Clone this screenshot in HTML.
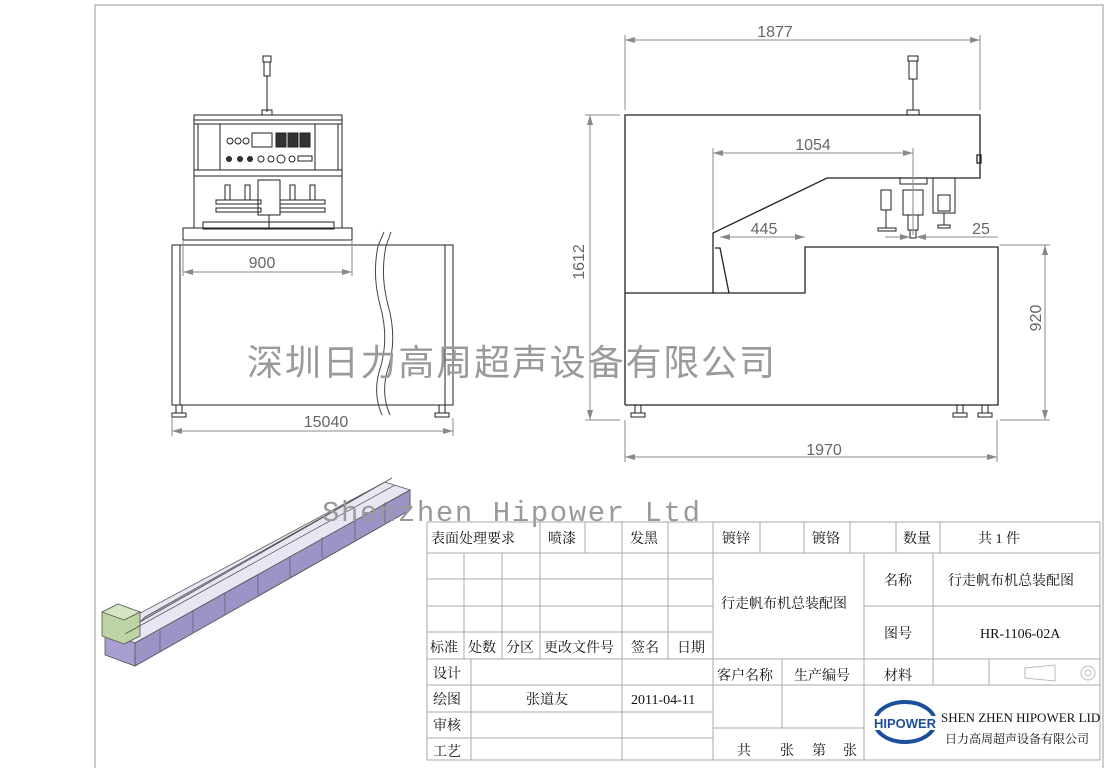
<!DOCTYPE html>
<html><head><meta charset="utf-8"><style>
html,body{margin:0;padding:0;background:#fff;}
svg{display:block}
.t{font-family:"Liberation Serif","Noto Serif CJK SC",serif;font-size:14px;fill:#111}
.d{font-family:"Liberation Sans",sans-serif;font-size:16px;fill:#666}
</style></head><body>
<svg width="1117" height="768" viewBox="0 0 1117 768" xmlns="http://www.w3.org/2000/svg">
<defs>
<marker id="a" viewBox="0 0 10 6" refX="10" refY="3" markerWidth="10" markerHeight="6" orient="auto-start-reverse"><path d="M0,0L10,3L0,6z" fill="#888"/></marker>
</defs>
<path d="M95,768V5H1103V768" fill="none" stroke="#aaa" stroke-width="1.2"/>

<!-- LEFT VIEW -->
<g stroke="#222" fill="none" stroke-width="1">
<rect x="172" y="245" width="281" height="160"/>
<line x1="180" y1="245" x2="180" y2="405"/><line x1="445" y1="245" x2="445" y2="405"/>
<rect x="176" y="405" width="6" height="8"/><rect x="172" y="413" width="14" height="4"/>
<rect x="439" y="405" width="6" height="8"/><rect x="435" y="413" width="14" height="4"/>
<rect x="183" y="228" width="169" height="12"/>
<rect x="203" y="222" width="131" height="7"/>
<rect x="194" y="115" width="148" height="113"/>
<rect x="194" y="120" width="148" height="4"/>
<rect x="198" y="124" width="140" height="46"/>
<rect x="220" y="124" width="95" height="46"/>
<rect x="194" y="170" width="148" height="6"/>
<rect x="252" y="133" width="20" height="14" fill="#fff"/>
<rect x="276" y="133" width="10" height="14" fill="#333"/><rect x="288" y="133" width="10" height="14" fill="#333"/><rect x="300" y="133" width="10" height="14" fill="#333"/>
<circle cx="230" cy="141" r="3"/><circle cx="238" cy="141" r="3"/><circle cx="246" cy="141" r="3"/>
<circle cx="229" cy="159" r="2.5" fill="#333"/><circle cx="240" cy="159" r="2.5" fill="#333"/><circle cx="250" cy="159" r="2.5" fill="#333"/><circle cx="261" cy="159" r="3"/><circle cx="271" cy="159" r="3"/><circle cx="281" cy="159" r="4"/><circle cx="292" cy="159" r="3"/>
<rect x="298" y="156" width="14" height="5"/>
<rect x="263" y="56" width="8" height="6"/><rect x="264" y="62" width="6" height="14"/><line x1="267" y1="76" x2="267" y2="112"/><rect x="262" y="110" width="10" height="5"/>
<rect x="216" y="200" width="45" height="4"/><rect x="216" y="208" width="45" height="4"/>
<rect x="280" y="200" width="45" height="4"/><rect x="280" y="208" width="45" height="4"/>
<rect x="258" y="180" width="22" height="35"/>
<rect x="225" y="185" width="5" height="15"/><rect x="245" y="185" width="5" height="15"/><rect x="290" y="185" width="5" height="15"/><rect x="310" y="185" width="5" height="15"/>
<line x1="269" y1="215" x2="269" y2="228"/>
</g>
<rect x="379" y="246" width="12" height="158" fill="#fff"/>
<path d="M384,232 L378,246 Q372,275 380,305 Q390,340 379,372 Q373,395 382,415 M391,232 L386,246 Q380,275 388,305 Q398,340 387,372 Q381,395 390,415" fill="none" stroke="#444" stroke-width="1"/>
<g stroke="#888" stroke-width="1" fill="none">
<line x1="183" y1="240" x2="183" y2="276"/><line x1="352" y1="240" x2="352" y2="276"/>
<line x1="183" y1="272" x2="352" y2="272" marker-start="url(#a)" marker-end="url(#a)"/>
<line x1="172" y1="418" x2="172" y2="436"/><line x1="453" y1="418" x2="453" y2="436"/>
<line x1="172" y1="431" x2="453" y2="431" marker-start="url(#a)" marker-end="url(#a)"/>
</g>
<text class="d" x="262" y="268" text-anchor="middle">900</text>
<text class="d" x="326" y="427" text-anchor="middle">15040</text>

<!-- RIGHT VIEW -->
<g stroke="#222" fill="none" stroke-width="1.3">
<path d="M625,405V115H980V178H827L713,233V293H625"/>
<path d="M713,293H805V247H998V405H625"/>
<path d="M715,248L720,248L729,293"/>
<rect x="977" y="155" width="4" height="8"/>
</g>
<g stroke="#222" fill="none" stroke-width="1">
<rect x="908" y="56" width="10" height="5"/><rect x="909" y="61" width="8" height="18"/><line x1="913" y1="79" x2="913" y2="110"/><rect x="907" y="110" width="12" height="5"/>
<rect x="900" y="178" width="27" height="6"/>
<rect x="903" y="190" width="20" height="25"/>
<rect x="881" y="190" width="10" height="20"/><line x1="886" y1="210" x2="886" y2="228"/><rect x="878" y="228" width="18" height="3"/>
<rect x="933" y="178" width="22" height="35"/><rect x="938" y="195" width="12" height="16"/><line x1="944" y1="213" x2="944" y2="225"/><rect x="938" y="225" width="12" height="3"/>
<rect x="908" y="215" width="10" height="15"/><rect x="910" y="230" width="6" height="8"/>
</g>
<g stroke="#888" stroke-width="1" fill="none">
<line x1="625" y1="110" x2="625" y2="35"/><line x1="980" y1="110" x2="980" y2="35"/>
<line x1="625" y1="40" x2="980" y2="40" marker-start="url(#a)" marker-end="url(#a)"/>
<line x1="713" y1="230" x2="713" y2="148"/><line x1="913" y1="148" x2="913" y2="235"/>
<line x1="713" y1="153" x2="913" y2="153" marker-start="url(#a)" marker-end="url(#a)"/>
<line x1="720" y1="237" x2="805" y2="237" marker-start="url(#a)" marker-end="url(#a)"/>
<line x1="885" y1="237" x2="910" y2="237" marker-end="url(#a)"/><line x1="945" y1="237" x2="916" y2="237" marker-end="url(#a)"/><line x1="945" y1="237" x2="998" y2="237"/>
<line x1="620" y1="115" x2="585" y2="115"/><line x1="620" y1="420" x2="585" y2="420"/>
<line x1="590" y1="115" x2="590" y2="420" marker-start="url(#a)" marker-end="url(#a)"/>
<line x1="1000" y1="245" x2="1050" y2="245"/><line x1="1000" y1="420" x2="1050" y2="420"/>
<line x1="1045" y1="245" x2="1045" y2="420" marker-start="url(#a)" marker-end="url(#a)"/>
<line x1="625" y1="420" x2="625" y2="462"/><line x1="997" y1="420" x2="997" y2="462"/>
<line x1="625" y1="457" x2="997" y2="457" marker-start="url(#a)" marker-end="url(#a)"/>
</g>
<g fill="none" stroke="#222">
<rect x="635" y="405" width="6" height="8"/><rect x="631" y="413" width="14" height="4"/>
<rect x="957" y="405" width="6" height="8"/><rect x="953" y="413" width="14" height="4"/>
<rect x="982" y="405" width="6" height="8"/><rect x="978" y="413" width="14" height="4"/>
</g>
<text class="d" x="775" y="37" text-anchor="middle">1877</text>
<text class="d" x="813" y="150" text-anchor="middle">1054</text>
<text class="d" x="764" y="234" text-anchor="middle">445</text>
<text class="d" x="981" y="234" text-anchor="middle">25</text>
<text class="d" x="824" y="455" text-anchor="middle">1970</text>
<text class="d" transform="translate(584,262) rotate(-90)" text-anchor="middle">1612</text>
<text class="d" transform="translate(1041,318) rotate(-90)" text-anchor="middle">920</text>

<text x="247" y="375" font-family="'Liberation Sans','Noto Sans CJK SC',sans-serif" font-size="36" fill="#9a9a9a" textLength="528">深圳日力高周超声设备有限公司</text>

<!-- ISOMETRIC -->
<g stroke="#555" stroke-width="0.8">
<polygon points="105,632 105,655 135,666 410,510 410,490" fill="#a89ed0"/>
<polygon points="105,632 135,643 410,490 385,482" fill="#e8e6f2"/>
<polygon points="135,643 135,666 410,510 410,490" fill="#9d93c6"/>
<polygon points="140,622 385,482 392,478 145,617" fill="#b4a8d6"/>
<polygon points="102,612 118,604 140,612 140,636 124,644 102,636" fill="#bcd3a4"/>
<polygon points="102,612 118,604 140,612 124,620" fill="#d6e6c4"/>
</g>
<g stroke="#555" stroke-width="0.6">
<line x1="160" y1="651" x2="160" y2="630"/><line x1="193" y1="632" x2="193" y2="611"/><line x1="225" y1="614" x2="225" y2="593"/><line x1="258" y1="595" x2="258" y2="574"/><line x1="290" y1="577" x2="290" y2="556"/><line x1="322" y1="558" x2="322" y2="537"/><line x1="355" y1="540" x2="355" y2="519"/><line x1="385" y1="523" x2="385" y2="502"/>
<line x1="125" y1="634" x2="395" y2="485" stroke="#333"/>
</g>
<text x="322" y="521" font-family="'Liberation Mono',monospace" font-size="29" fill="#9a9a9a" textLength="378">Shenzhen Hipower Ltd</text>

<!-- TITLE BLOCK -->
<g stroke="#aaa" stroke-width="1" fill="none">
<rect x="427" y="522" width="673" height="238"/>
<line x1="427" y1="553" x2="1100" y2="553"/>
<line x1="427" y1="579" x2="713" y2="579"/><line x1="427" y1="606" x2="713" y2="606"/><line x1="864" y1="606" x2="1100" y2="606"/>
<line x1="427" y1="632" x2="713" y2="632"/>
<line x1="427" y1="659" x2="1100" y2="659"/>
<line x1="427" y1="685" x2="1100" y2="685"/>
<line x1="427" y1="712" x2="713" y2="712"/><line x1="427" y1="738" x2="713" y2="738"/>
<line x1="713" y1="728" x2="864" y2="728"/>
<line x1="540" y1="522" x2="540" y2="659"/><line x1="585" y1="522" x2="585" y2="553"/><line x1="622" y1="522" x2="622" y2="760"/>
<line x1="668" y1="522" x2="668" y2="659"/><line x1="713" y1="522" x2="713" y2="760"/>
<line x1="760" y1="522" x2="760" y2="553"/><line x1="804" y1="522" x2="804" y2="553"/><line x1="850" y1="522" x2="850" y2="553"/><line x1="896" y1="522" x2="896" y2="553"/><line x1="940" y1="522" x2="940" y2="553"/>
<line x1="464" y1="553" x2="464" y2="659"/><line x1="502" y1="553" x2="502" y2="659"/>
<line x1="471" y1="659" x2="471" y2="760"/>
<line x1="864" y1="553" x2="864" y2="760"/><line x1="933" y1="553" x2="933" y2="685"/>
<line x1="782" y1="659" x2="782" y2="728"/><line x1="989" y1="659" x2="989" y2="685"/>
</g>
<g class="t">
<text x="431" y="543">表面处理要求</text><text x="548" y="543">喷漆</text><text x="630" y="543">发黑</text>
<text x="722" y="543">镀锌</text><text x="812" y="543">镀铬</text><text x="903" y="543">数量</text><text x="978" y="543">共 1 件</text>
<text x="430" y="652">标准</text><text x="468" y="652">处数</text><text x="506" y="652">分区</text><text x="544" y="652">更改文件号</text><text x="631" y="652">签名</text><text x="677" y="652">日期</text>
<text x="721" y="608">行走帆布机总装配图</text>
<text x="884" y="585">名称</text><text x="948" y="585">行走帆布机总装配图</text>
<text x="884" y="638">图号</text><text x="980" y="638">HR-1106-02A</text>
<text x="433" y="678">设计</text><text x="433" y="704">绘图</text><text x="526" y="704">张道友</text><text x="631" y="704">2011-04-11</text>
<text x="433" y="730">审核</text><text x="433" y="756">工艺</text>
<text x="717" y="680">客户名称</text><text x="794" y="680">生产编号</text><text x="884" y="680">材料</text>
<text x="737" y="755">共</text><text x="780" y="755">张</text><text x="812" y="755">第</text><text x="843" y="755">张</text>
<text x="941" y="722" font-size="13">SHEN ZHEN HIPOWER LID</text>
<text x="945" y="743" font-size="12">日力高周超声设备有限公司</text>
</g>
<g stroke="#bbb" fill="none"><path d="M1025,668L1055,665V681L1025,678Z"/><circle cx="1088" cy="673" r="7"/><circle cx="1088" cy="673" r="3"/></g>
<ellipse cx="905" cy="722" rx="30" ry="20" fill="none" stroke="#1d4f9c" stroke-width="4"/>
<rect x="872" y="716" width="66" height="14" fill="#fff"/>
<text x="905" y="728" text-anchor="middle" font-family="'Liberation Sans',sans-serif" font-weight="bold" font-size="13" fill="#1d4f9c">HIPOWER</text>
</svg>
</body></html>
